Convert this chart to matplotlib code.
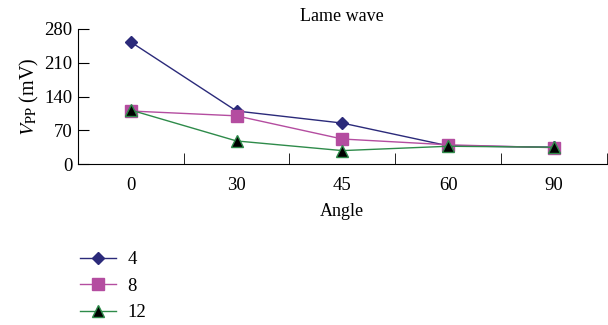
import matplotlib
matplotlib.use("Agg")
import matplotlib.pyplot as plt
import numpy as np

angles = ["0", "30", "45", "60", "90"]
v4 = [253, 110, 85, 38, 35]
v8 = [110, 100, 52, 40, 34]
v12 = [112, 48, 28, 37, 35]

plt.rcParams['font.family'] = ['Liberation Serif', 'DejaVu Serif']
plt.rcParams['mathtext.fontset'] = 'stix'

fig = plt.figure(figsize=(6.08, 3.25), dpi=100)
ax = fig.add_axes([0.128, 0.495, 0.87, 0.416])

x = np.arange(len(angles))
l1, = ax.plot(x, v4, color='#2b2a7a', lw=1, marker='D', ms=6, mfc='#2b2a7a', mec='#2b2a7a', label='4')
l2, = ax.plot(x, v8, color='#b44da0', lw=1, marker='s', ms=9, mfc='#b44da0', mec='#b44da0', label='8')
l3, = ax.plot(x, v12, color='#2e8b4a', lw=1, marker='^', ms=8, mfc='black', mec='#2e8b4a', mew=1, label='12')

ax.set_xlim(-0.5, len(angles) - 0.5)
ax.set_ylim(0, 280)
ax.set_yticks([0, 70, 140, 210, 280])
ax.set_xticks(x)
ax.set_xticklabels(angles)
ax.set_xticks(np.arange(len(angles) + 1) - 0.5, minor=True)
ax.tick_params(axis='x', which='major', length=0, labelsize=13.5, pad=9)
ax.tick_params(axis='x', which='minor', direction='in', length=8)
ax.tick_params(axis='y', direction='in', length=8, labelsize=13.5, pad=4)
for s in ['top', 'right']:
    ax.spines[s].set_visible(False)

ax.set_title("Lame wave", fontsize=13, pad=6)
ax.set_xlabel("Angle", fontsize=13, labelpad=7)
ax.set_ylabel(r"$V_{\mathrm{PP}}$ (mV)", fontsize=14.5, labelpad=2)

fig.legend(handles=[l1, l2, l3], loc='upper left', bbox_to_anchor=(0.12, 0.25),
           frameon=False, fontsize=13.5, handlelength=1.9, handletextpad=0.6,
           labelspacing=0.5, borderaxespad=0)

fig.savefig("out.png", dpi=100)
